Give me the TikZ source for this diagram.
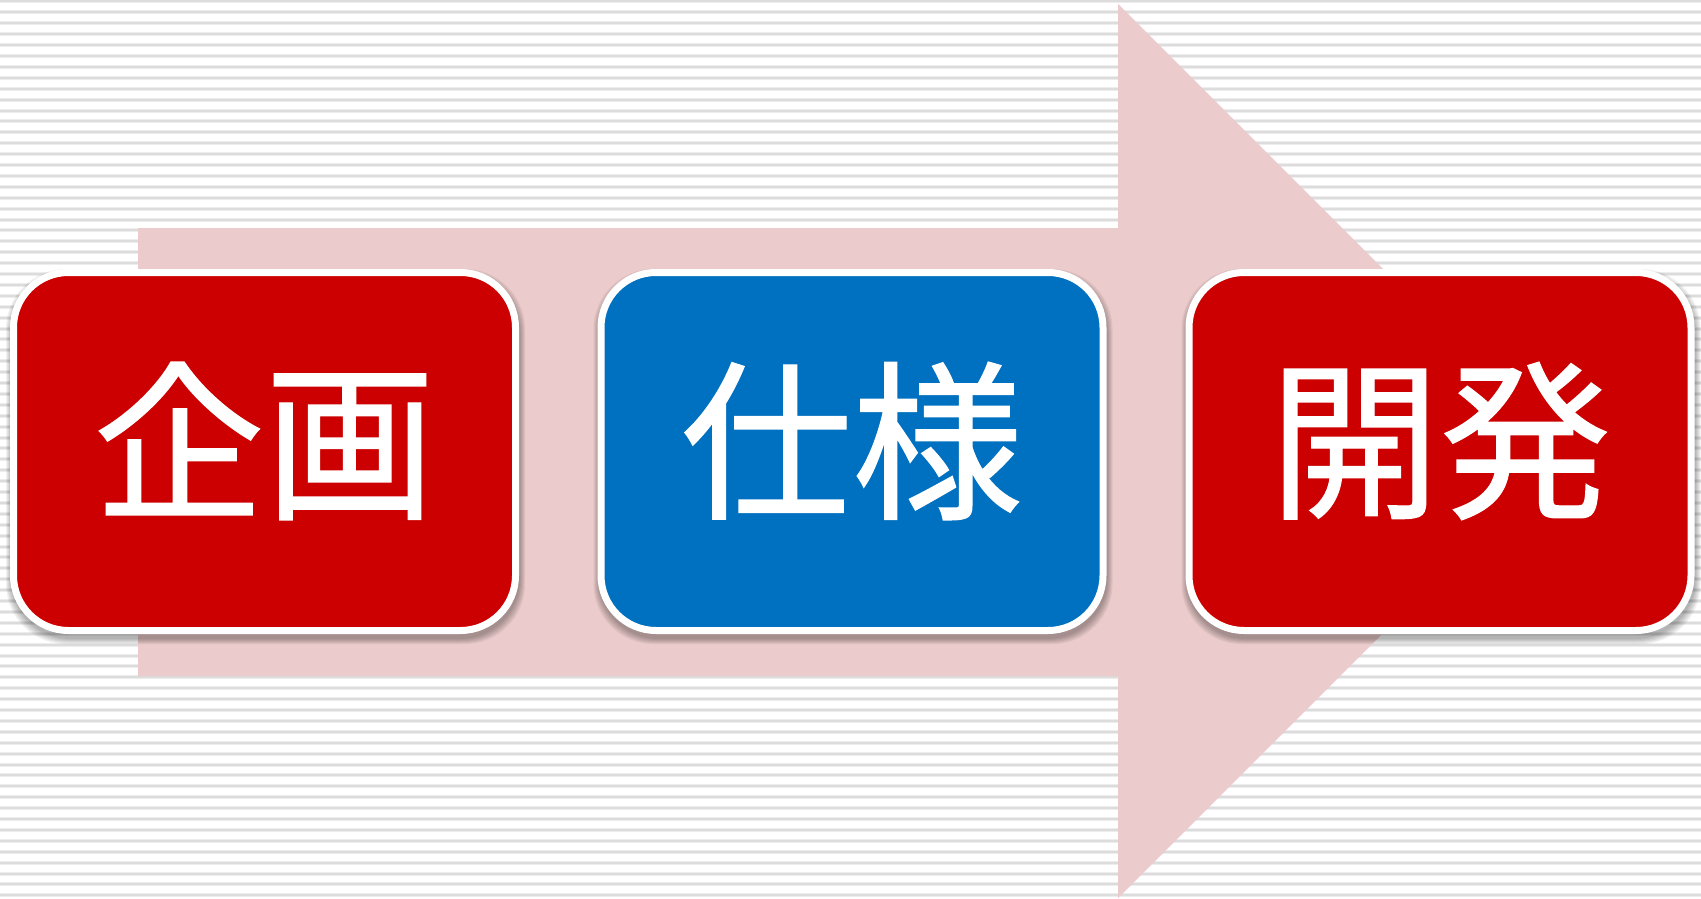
\documentclass[tikz,border=0pt]{standalone}
\usepackage{fontspec}
\newfontfamily\jpfont[FakeBold=0.8]{Noto Sans CJK JP}
\definecolor{stripeA}{HTML}{EDEDED}
\definecolor{stripeB}{HTML}{DCDCDC}
\definecolor{arrowpink}{HTML}{EBCBCB}
\definecolor{stepred}{HTML}{CC0000}
\definecolor{stepblue}{HTML}{0070C0}
\tikzset{
  stepbox/.style={draw=white, line width=7pt, rounded corners=55pt,
    minimum width=502pt, minimum height=358pt, inner sep=0pt},
  steplabel/.style={text=white, inner sep=0pt, anchor=center,
    font=\jpfont\fontsize{171pt}{171pt}\selectfont},
  shadowlayer/.style={fill=black, fill opacity=0.055, rounded corners=60pt}
}
\begin{document}
\begin{tikzpicture}[x=1pt,y=-1pt]
\useasboundingbox (0,0) rectangle (1701,899);
\fill[white] (0,0) rectangle (1701,899);
% striped background
\foreach \i in {0,...,82}{
  \fill[stripeA] (0,{\i*10.9-0.5}) rectangle (1701,{\i*10.9+3.5});
  \fill[stripeB] (0,{\i*10.9+0.5}) rectangle (1701,{\i*10.9+2.5});
}
% big arrow
\fill[arrowpink] (138,228) -- (1118,228) -- (1118,4) -- (1565,451)
  -- (1118,898) -- (1118,676) -- (138,676) -- cycle;
% shadows
\foreach \cx in {264.5,852,1440}{
  \foreach \k in {0,...,5}{
    \fill[shadowlayer] ({\cx-254.5-\k+1},{269-\k+5}) rectangle ({\cx+254.5+\k+1},{634+\k+5});
  }
}
% boxes
\node[stepbox, fill=stepred]  (plan) at (264.5,451.5) {};
\node[stepbox, fill=stepblue] (spec) at (852,451.5) {};
\node[stepbox, fill=stepred]  (dev)  at (1440,451.5) {};
% labels
\node[steplabel] (planlbl) at ([yshift=10.5pt]plan.center) {企画};
\node[steplabel] (speclbl) at ([yshift=10.5pt]spec.center) {仕様};
\node[steplabel] (devlbl)  at ([yshift=10.5pt]dev.center) {開発};
\end{tikzpicture}
\end{document}
